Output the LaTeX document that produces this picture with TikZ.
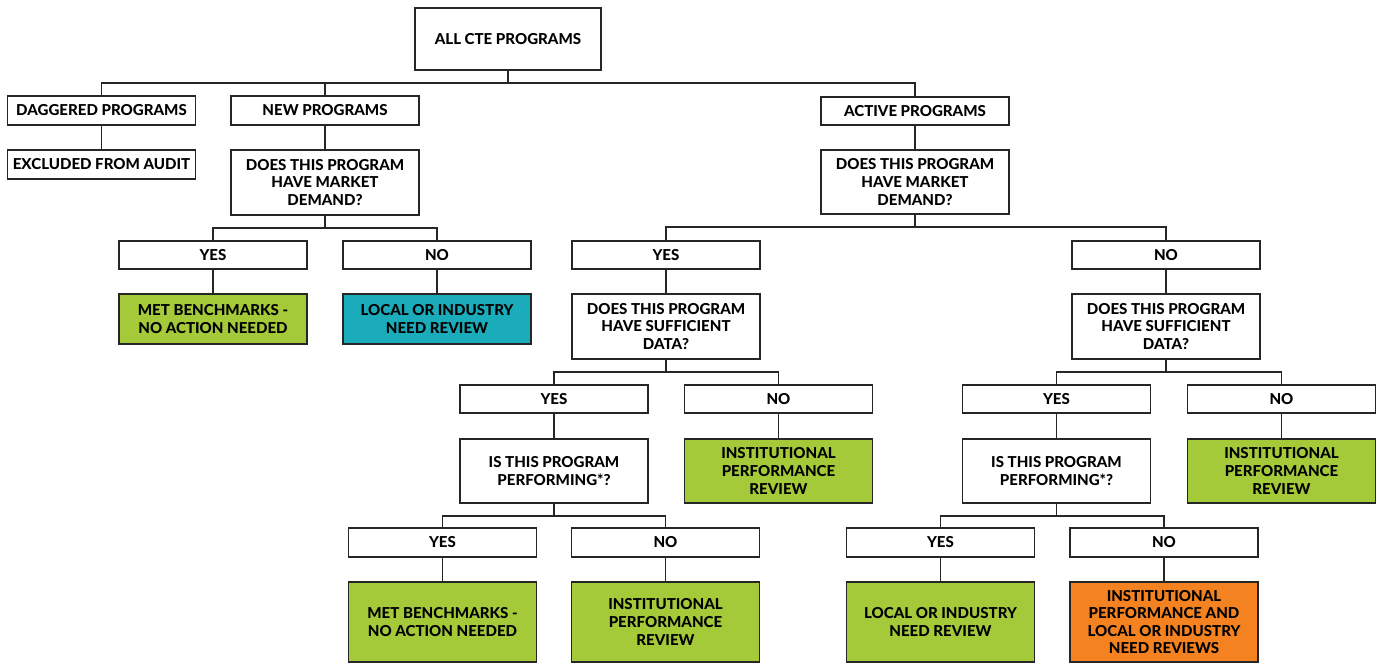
\documentclass[tikz,border=0pt]{standalone}
\usepackage{fontspec}
\setmainfont{Lato}[BoldFont={* Heavy}]
\definecolor{lime}{RGB}{164,201,57}
\definecolor{teal}{RGB}{27,172,188}
\definecolor{tang}{RGB}{244,130,32}
\begin{document}
\begin{tikzpicture}[x=0.75pt,y=-0.75pt,
  box/.style={draw=black!85,line width=1.4pt,fill=white,minimum width=141pt,
    minimum height=21.5pt,align=center,inner sep=1pt,
    font=\fontsize{11.3}{13.2}\selectfont\bfseries},
  tall/.style={minimum height=48.5pt},
  mid/.style={minimum height=37.5pt},
  big/.style={minimum height=60pt},
  good/.style={fill=lime},
  wire/.style={draw=black!85,line width=1.4pt}]
\useasboundingbox (0,0) rectangle (1377,664);

% top level
\node[box,minimum width=140pt,minimum height=47pt] (cte) at (508,39) {ALL CTE PROGRAMS};
\node[box] (dag)  at (101.5,110.5) {DAGGERED PROGRAMS};
\node[box] (excl) at (101.5,164.5) {EXCLUDED FROM AUDIT};
\node[box] (newp) at (325,110.5) {NEW PROGRAMS};
\node[box] (act)  at (915,111) {ACTIVE PROGRAMS};

% new programs branch
\node[box,tall] (newq) at (325,182.5) {DOES THIS PROGRAM\\HAVE MARKET\\DEMAND?};
\node[box] (nyes) at (213,255) {YES};
\node[box] (nno)  at (437,255) {NO};
\node[box,mid,good] (nmet) at (213,319) {MET BENCHMARKS -\\NO ACTION NEEDED};
\node[box,mid,fill=teal] (nloc) at (437,319) {LOCAL OR INDUSTRY\\NEED REVIEW};

% active programs branch
\node[box,tall] (actq) at (915,182) {DOES THIS PROGRAM\\HAVE MARKET\\DEMAND?};
\node[box] (ayes) at (666,255) {YES};
\node[box] (ano)  at (1166,255) {NO};
\node[box,tall] (ayq) at (666,326.5) {DOES THIS PROGRAM\\HAVE SUFFICIENT\\DATA?};
\node[box,tall] (anq) at (1166,326.5) {DOES THIS PROGRAM\\HAVE SUFFICIENT\\DATA?};

\node[box] (yy) at (554,399) {YES};
\node[box] (yn) at (778.5,399) {NO};
\node[box] (ny) at (1056.5,399) {YES};
\node[box] (nn) at (1281.5,399) {NO};

\node[box,tall] (yperf) at (554,471) {IS THIS PROGRAM\\PERFORMING*?};
\node[box,tall,good] (yinst) at (778.5,471) {INSTITUTIONAL\\PERFORMANCE\\REVIEW};
\node[box,tall] (nperf) at (1056.5,471) {IS THIS PROGRAM\\PERFORMING*?};
\node[box,tall,good] (ninst) at (1281.5,471) {INSTITUTIONAL\\PERFORMANCE\\REVIEW};

\node[box] (yyy) at (442.5,542.5) {YES};
\node[box] (yyn) at (665.5,542.5) {NO};
\node[box] (nyy) at (940.5,542.5) {YES};
\node[box] (nyn) at (1164,542.5) {NO};

\node[box,big,good] (ymet)  at (442.5,622) {MET BENCHMARKS -\\NO ACTION NEEDED};
\node[box,big,good] (yins2) at (665.5,622) {INSTITUTIONAL\\PERFORMANCE\\REVIEW};
\node[box,big,good] (nloc2) at (940.5,622) {LOCAL OR INDUSTRY\\NEED REVIEW};
\node[box,big,fill=tang] (nboth) at (1164,622) {INSTITUTIONAL\\PERFORMANCE AND\\LOCAL OR INDUSTRY\\NEED REVIEWS};

% forks: parent -> bus -> children
\foreach \p/\c in {cte/dag,cte/newp,cte/act,
                   newq/nyes,newq/nno,actq/ayes,actq/ano,
                   ayq/yy,ayq/yn,anq/ny,anq/nn,
                   yperf/yyy,yperf/yyn,nperf/nyy,nperf/nyn}
  \draw[wire] (\p.south) -- ++(0,12) -| (\c.north);

% straight links
\foreach \p/\c in {dag/excl,newp/newq,act/actq,nyes/nmet,nno/nloc,
                   ayes/ayq,ano/anq,yy/yperf,yn/yinst,ny/nperf,nn/ninst,
                   yyy/ymet,yyn/yins2,nyy/nloc2,nyn/nboth}
  \draw[wire] (\p.south) -- (\c.north);
\end{tikzpicture}
\end{document}
